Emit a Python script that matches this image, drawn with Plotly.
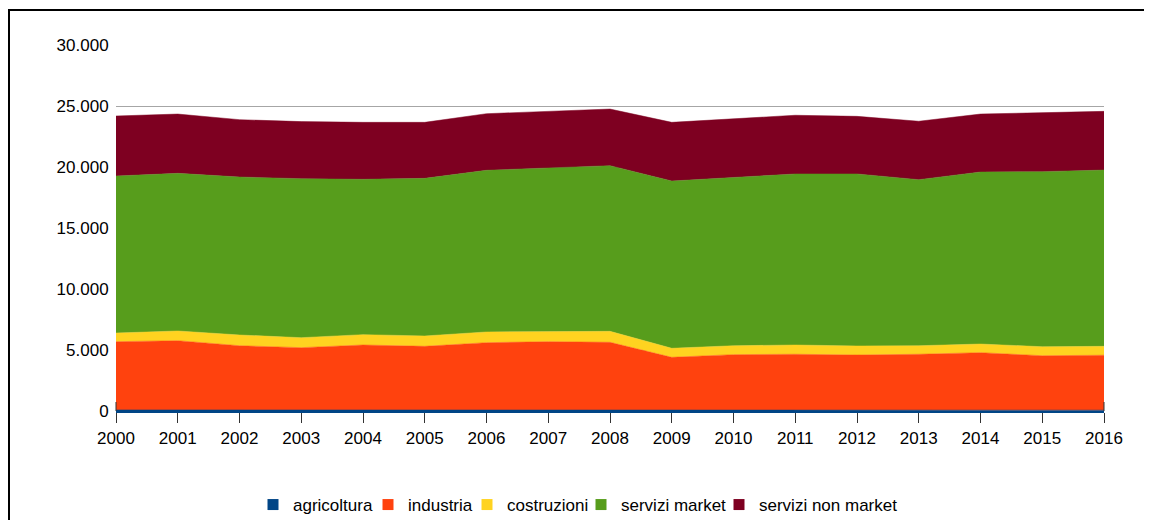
import plotly.graph_objects as go

years = list(range(2000, 2017))
agricoltura = [90, 85, 85, 80, 85, 80, 80, 80, 75, 75, 75, 75, 70, 70, 75, 70, 70]
industria = [5590, 5675, 5265, 5110, 5325, 5220, 5520, 5600, 5555, 4325, 4545, 4575, 4520, 4580, 4705, 4460, 4500]
costruzioni = [710, 800, 880, 820, 850, 850, 880, 850, 900, 740, 730, 760, 740, 700, 710, 740, 730]
servizi_market = [12870, 12920, 12950, 13030, 12730, 12920, 13250, 13410, 13580, 13710, 13800, 14020, 14100, 13610, 14100, 14350, 14450]
servizi_non_market = [4920, 4860, 4700, 4680, 4670, 4590, 4640, 4620, 4640, 4810, 4780, 4810, 4720, 4790, 4750, 4830, 4810]
y_ticks = [0, 5000, 10000, 15000, 20000, 25000, 30000]
y_labels = ["0", "5.000", "10.000", "15.000", "20.000", "25.000", "30.000"]

series = [
    ("agricoltura", agricoltura, "#004586"),
    ("industria", industria, "#ff420e"),
    ("costruzioni", costruzioni, "#ffd320"),
    ("servizi market", servizi_market, "#579d1c"),
    ("servizi non market", servizi_non_market, "#7e0021"),
]
# page x where each legend label starts
legend_text_x = [293, 408, 507, 621, 759]

FONT = "Liberation Sans, Arial, sans-serif"

fig = go.Figure()
for name, vals, col in series:
    fig.add_trace(go.Scatter(
        x=years, y=vals, name=name, stackgroup="one",
        mode="lines", line=dict(color=col, width=0.5),
        fillcolor=col, showlegend=False,
    ))

legend_layouts = {}
for i, (name, vals, col) in enumerate(series):
    key = "legend" if i == 0 else f"legend{i + 1}"
    fig.add_trace(go.Scatter(
        x=[None], y=[None], name=name, mode="markers",
        marker=dict(symbol="square", size=11, color=col), showlegend=True,
        legend=key,
    ))
    legend_layouts[key] = dict(
        orientation="h", xref="container", yref="container",
        x=(legend_text_x[i] - 8 - 40) / 1144, xanchor="left",
        y=(520 - 505) / 512, yanchor="middle",
        font=dict(family=FONT, size=17, color="#000000"),
        itemwidth=30, bgcolor="rgba(0,0,0,0)", borderwidth=0,
    )

shapes = [dict(type="rect", xref="paper", yref="paper",
               x0=(9 - 116) / 988, x1=1.2, y0=-0.5, y1=(411 - 10) / 366,
               line=dict(color="#000000", width=2), fillcolor="rgba(0,0,0,0)", layer="below")]
# short end-marks rising above the axis at both ends
for xp in (0, 1):
    shapes.append(dict(type="line", xref="paper", yref="paper",
                       x0=xp, x1=xp, y0=0, y1=9 / 366,
                       line=dict(color="#333333", width=1), layer="above"))

# page body has an 8px margin: figure is 1144x512 placed at (8,8)
fig.update_layout(
    width=1144, height=512,
    margin=dict(l=108, r=48, t=37, b=109, autoexpand=False),
    paper_bgcolor="white", plot_bgcolor="white",
    separators=",.",
    font=dict(family=FONT, size=17, color="#000000"),
    showlegend=True,
    xaxis=dict(range=[2000, 2016], tickmode="array", tickvals=years,
               ticktext=[str(y) for y in years],
               showgrid=False, zeroline=False, showline=True, linecolor="#004586", linewidth=1.5,
               ticks="outside", ticklen=10, tickcolor="#333333", tickwidth=1,
               ticklabelstandoff=1,
               tickfont=dict(family=FONT, size=17)),
    yaxis=dict(range=[0, 30000], tickmode="array",
               tickvals=y_ticks, ticktext=y_labels,
               showgrid=True, gridcolor="#a6a6a6", gridwidth=1.3,
               zeroline=False, showline=False,
               ticks="outside", ticklen=3, tickcolor="rgba(0,0,0,0)",
               tickfont=dict(family=FONT, size=17)),
    shapes=shapes,
    **legend_layouts,
)

fig.write_html("out.html")
